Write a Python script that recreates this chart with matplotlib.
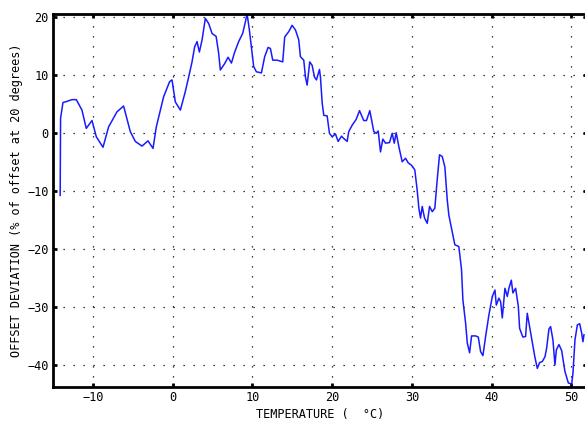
import matplotlib
matplotlib.use("Agg")
import matplotlib.pyplot as plt

temperature = [
    -14.10, -14.05, -13.75, -13.25, -12.62, -12.08, -11.37, -10.83, -10.11, -9.57,
    -8.73, -8.03, -6.98, -6.15, -5.31, -4.68, -3.84, -3.09, -2.46, -2.05,
    -1.13, -0.38, -0.08, 0.34, 0.97, 1.59, 2.01, 2.43, 2.76, 3.06,
    3.35, 3.69, 4.10, 4.52, 4.94, 5.45, 5.77, 5.98, 6.52, 6.95,
    7.37, 7.78, 8.28, 8.78, 9.12, 9.33, 9.62, 9.96, 10.16, 10.50,
    11.13, 11.54, 11.97, 12.26, 12.55, 13.10, 13.80, 14.05, 14.55, 14.98,
    15.40, 15.81, 16.02, 16.44, 16.65, 16.86, 17.19, 17.49, 17.78, 18.03,
    18.41, 18.53, 18.75, 18.95, 19.37, 19.50, 19.66, 20.00, 20.41, 20.75,
    21.17, 21.46, 21.88, 22.08, 22.51, 23.01, 23.43, 23.96, 24.30, 24.72,
    25.02, 25.22, 25.52, 25.77, 26.06, 26.35, 26.69, 27.19, 27.53, 27.78,
    28.03, 28.36, 28.78, 29.20, 29.54, 29.95, 30.36, 30.66, 30.87, 31.08,
    31.29, 31.58, 31.92, 32.21, 32.55, 32.87, 33.17, 33.46, 33.80, 34.13,
    34.43, 34.63, 34.97, 35.38, 35.88, 36.22, 36.39, 36.73, 36.94, 37.23,
    37.48, 37.98, 38.32, 38.61, 38.90, 39.24, 39.65, 40.08, 40.41, 40.58,
    40.90, 41.12, 41.33, 41.66, 41.96, 42.16, 42.46, 42.66, 43.00, 43.34,
    43.50, 43.91, 44.25, 44.46, 44.75, 45.09, 45.41, 45.72, 46.01, 46.35,
    46.68, 46.89, 47.18, 47.39, 47.68, 47.93, 48.11, 48.43, 48.77, 49.18,
    49.61, 50.03, 50.19, 50.44, 50.74, 51.03, 51.28, 51.44, 51.57,
]
deviation = [
    -10.8, 2.5, 5.2, 5.4, 5.7, 5.7, 3.9, 0.75, 2.1, -0.7,
    -2.5, 1.0, 3.6, 4.6, 0.2, -1.5, -2.3, -1.4, -2.7, 1.0,
    6.2, 8.8, 9.1, 5.3, 3.9, 7.1, 9.6, 12.2, 14.8, 15.7,
    13.9, 16.0, 19.7, 18.8, 17.1, 16.6, 13.7, 10.8, 11.9, 13.0,
    12.0, 13.9, 15.7, 17.1, 19.1, 20.5, 17.7, 13.7, 11.4, 10.5,
    10.3, 13.1, 14.7, 14.5, 12.5, 12.5, 12.2, 16.5, 17.4, 18.5,
    17.7, 16.0, 13.1, 12.5, 9.6, 8.2, 12.2, 11.6, 9.6, 9.1,
    10.9, 9.6, 5.1, 3.0, 2.9, 1.6, -0.1, -0.7, -0.2, -1.5,
    -0.6, -1.0, -1.5, 0.2, 1.3, 2.3, 3.8, 2.1, 2.1, 3.8,
    1.6, 0.2, -0.1, 0.3, -3.3, -1.1, -1.8, -1.7, -0.1, -1.8,
    0.0, -2.4, -5.0, -4.4, -5.2, -5.6, -6.4, -9.9, -13.0, -14.7,
    -12.7, -14.7, -15.6, -12.7, -13.6, -13.0, -8.1, -3.8, -4.1, -5.9,
    -11.6, -14.2, -16.5, -19.3, -19.6, -23.6, -28.8, -32.8, -36.2, -37.9,
    -35.0, -35.0, -35.2, -37.7, -38.4, -35.1, -31.4, -28.2, -27.1, -29.7,
    -28.5, -29.1, -31.9, -26.8, -28.2, -26.8, -25.4, -27.6, -26.8, -29.9,
    -33.7, -35.2, -35.1, -31.1, -33.4, -36.2, -38.6, -40.6, -39.6, -39.4,
    -38.6, -37.1, -33.8, -33.4, -35.7, -40.0, -37.4, -36.5, -37.5, -41.1,
    -43.1, -43.3, -41.4, -35.7, -33.1, -32.9, -34.5, -36.0, -34.8,
]
x_ticks = [-10, 0, 10, 20, 30, 40, 50]
y_ticks = [-40, -30, -20, -10, 0, 10, 20]

plt.rcParams['font.family'] = ['DejaVu Sans Mono']
fig = plt.figure(figsize=(5.85, 4.26), dpi=100)
ax = fig.add_axes([53/585, 1 - 387/426, 534/585, (387 - 14)/426])
ax.plot(temperature, deviation, color='#1a1aff', linewidth=1.1)
ax.set_xlim(-15, 51.95)
ax.set_ylim(-43.8, 20.45)
ax.set_xticks(x_ticks)
ax.set_yticks(y_ticks)
ax.grid(True, color='black', linestyle=(0, (1, 7)), linewidth=0.9)
for s in ax.spines.values():
    s.set_linewidth(2.0)
ax.tick_params(direction='in', length=3, width=2, top=True, right=True,
               labelsize=8.6, pad=3, colors='black')
ax.set_xlabel('TEMPERATURE (  °C)', fontsize=8.6, labelpad=3)
ax.set_ylabel('OFFSET DEVIATION (% of offset at 20 degrees)', fontsize=8.6, labelpad=3)
fig.savefig('out.png', dpi=100)
